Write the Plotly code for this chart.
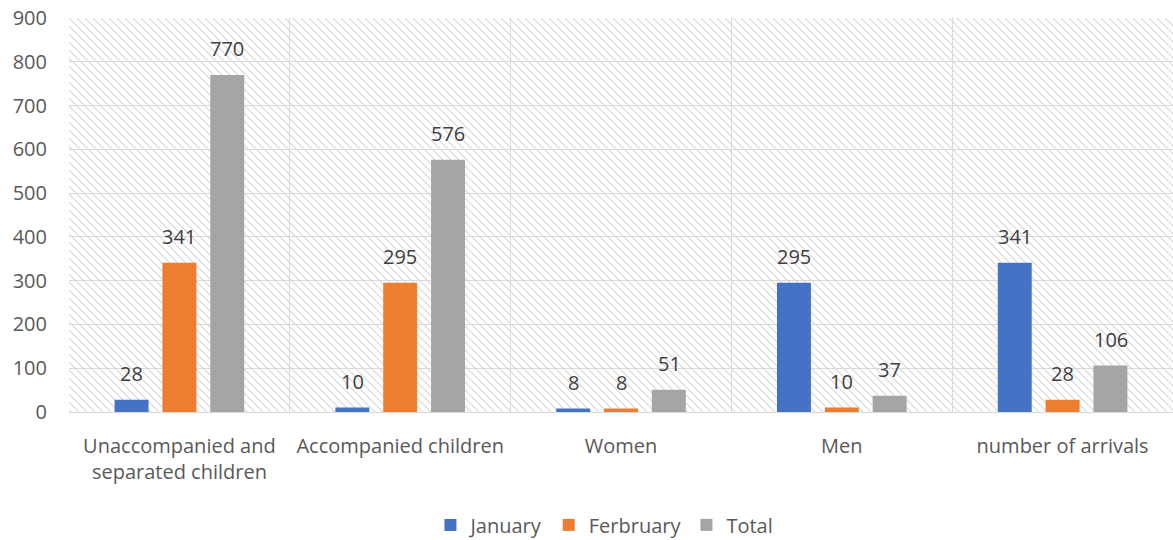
import base64

import plotly.graph_objects as go

# Chart data
categories = ["Unaccompanied and<br>separated children", "Accompanied children",
              "Women", "Men", "number of arrivals"]
january = [28, 10, 8, 295, 341]
february = [341, 295, 8, 10, 28]
total = [770, 576, 51, 37, 106]
series_names = ["January", "Ferbruary", "Total"]

colors = ["#4472C4", "#ED7D31", "#A5A5A5"]
font_family = "Open Sans, sans-serif"

# Hatched plot background (light diagonal lines), as an svg image
plot_w, plot_h = 1104, 394
hatch_svg = (
    f'<svg xmlns="http://www.w3.org/2000/svg" width="{plot_w}" height="{plot_h}" '
    f'viewBox="0 0 {plot_w} {plot_h}">'
    '<defs><pattern id="h" width="8" height="8" patternUnits="userSpaceOnUse">'
    '<path d="M-2,6 L2,10 M0,0 L8,8 M6,-2 L10,2" stroke="#d6d6d6" stroke-width="1.1"/>'
    '</pattern></defs>'
    f'<rect width="{plot_w}" height="{plot_h}" fill="white"/>'
    f'<rect width="{plot_w}" height="{plot_h}" fill="url(#h)"/></svg>'
)
hatch_uri = "data:image/svg+xml;base64," + base64.b64encode(hatch_svg.encode()).decode()

fig = go.Figure()

all_series = [january, february, total]
for name, values, color in zip(series_names, all_series, colors):
    fig.add_trace(go.Bar(
        x=categories,
        y=values,
        name=name,
        marker_color=color,
        marker_line_width=0,
    ))

# Data labels above each bar
shifts = [-48, 0, 48]
for values, dx in zip(all_series, shifts):
    for cat, v in zip(categories, values):
        fig.add_annotation(
            x=cat, y=v, text=str(v),
            xref="x", yref="y",
            showarrow=False,
            xshift=dx, yshift=11,
            yanchor="bottom",
            font=dict(family=font_family, size=20, color="#404040"),
        )

fig.add_layout_image(
    source=hatch_uri,
    xref="paper", yref="paper",
    x=0, y=1, sizex=1, sizey=1,
    xanchor="left", yanchor="top",
    sizing="stretch", layer="below",
)

fig.update_layout(
    width=1173, height=540,
    margin=dict(l=69, r=0, t=18, b=128),
    paper_bgcolor="white",
    plot_bgcolor="white",
    barmode="group",
    bargap=0.35,
    bargroupgap=0.29,
    font=dict(family=font_family, size=20, color="#595959"),
    legend=dict(
        orientation="h",
        x=0.485, xanchor="center",
        yref="container",
        y=0.028, yanchor="middle",
        font=dict(size=20, color="#595959"),
        itemwidth=30,
        traceorder="normal",
    ),
    xaxis=dict(
        automargin=False,
        tickson="boundaries",
        showgrid=True,
        gridcolor="#d9d9d9",
        gridwidth=1,
        showline=True,
        linecolor="#d9d9d9",
        ticks="",
        ticklabelstandoff=16,
        tickfont=dict(size=20, color="#595959"),
    ),
    yaxis=dict(
        automargin=False,
        range=[0, 900],
        dtick=100,
        showgrid=True,
        gridcolor="#d9d9d9",
        gridwidth=1,
        zeroline=False,
        ticks="",
        ticklabelstandoff=21,
        tickfont=dict(size=20, color="#595959"),
    ),
)

# remove the default page margin so the figure fills the window
fig.write_html("out.html", config={"displayModeBar": False},
               post_script="document.body.style.margin = '0';")
